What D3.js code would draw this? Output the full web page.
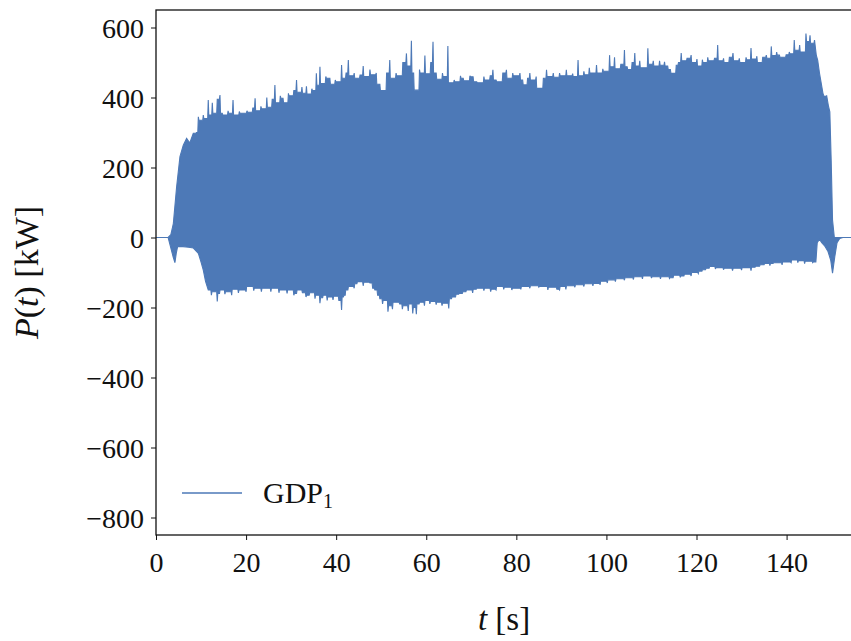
<!DOCTYPE html>
<html>
<head>
<meta charset="utf-8">
<script src="https://cdn.jsdelivr.net/npm/d3@7"></script>
<style>
  html, body { margin: 0; padding: 0; background: #fff; }
  svg { display: block; }
  text { font-family: "Liberation Serif", "DejaVu Serif", serif; fill: #111; }
</style>
</head>
<body>
<svg id="chart" width="851" height="641"></svg>
<script>
// ---- data (t [s], P [kW]) ----
const seriesName = "GDP";
const seriesSub = "1";
const xTicks = [0, 20, 40, 60, 80, 100, 120, 140];
const yTicks = [600, 400, 200, 0, -200, -400, -600, -800];
const xDomain = [0, 154.3];
const yDomain = [-850, 650];

// upper envelope of the signal (peaks of the oscillation)
const upperEnvelope = [[0,0],[2.7,0],[3.3,8],[3.85,40],[4.58,145],[5.32,231],[6.06,264],[6.8,283],[7.5,270],[8.28,298],[9.0,300],[9.4,345],[10.0,335],[10.5,350],[11.0,340],[11.6,393],[12.0,350],[12.5,385],[13.0,355],[13.6,395],[14.2,407],[14.7,355],[15.3,350],[16.0,362],[16.5,355],[17.1,393],[17.6,350],[18.5,360],[19.5,355],[20.2,362],[20.9,358],[21.5,370],[22.0,398],[22.6,362],[23.3,375],[24.0,368],[24.6,400],[25.2,372],[25.8,395],[26.4,436],[27.0,385],[27.6,405],[28.2,398],[28.8,385],[29.4,412],[30.0,405],[30.6,420],[31.2,450],[31.8,415],[32.4,430],[33.0,412],[33.4,432],[34.0,410],[34.6,425],[35.1,420],[35.6,469],[36.0,435],[36.4,488],[37.0,440],[37.7,460],[38.6,455],[39.2,438],[39.8,450],[40.4,445],[41.2,493],[41.7,455],[42.2,470],[42.7,507],[43.3,462],[44.0,470],[44.6,455],[45.3,464],[46.0,490],[46.6,460],[47.5,480],[48.2,465],[48.9,470],[49.7,438],[50.5,420],[51.2,470],[51.9,507],[52.6,455],[53.3,470],[54.1,462],[54.8,500],[55.6,526],[56.1,490],[56.7,562],[57.2,470],[57.8,421],[58.5,480],[59.1,470],[59.7,520],[60.4,468],[61.0,500],[61.5,559],[62.2,470],[63.0,452],[63.6,470],[64.2,460],[64.8,547],[65.5,442],[66.2,450],[67.0,445],[67.6,462],[68.2,455],[69.0,448],[69.7,462],[70.4,459],[71.2,445],[72.0,442],[72.8,460],[73.6,450],[74.2,462],[74.8,479],[75.5,450],[76.3,445],[77.0,470],[77.8,479],[78.5,455],[79.2,470],[80.0,462],[80.8,470],[81.4,450],[81.9,436],[82.5,455],[83.0,470],[83.7,450],[84.4,460],[85.2,426],[86.0,455],[86.7,479],[87.4,460],[88.2,470],[88.9,458],[89.6,470],[90.4,462],[91.1,479],[91.8,462],[92.5,468],[93.1,460],[93.7,507],[94.4,462],[95.0,475],[95.5,465],[96.2,485],[97.0,470],[97.8,493],[98.5,470],[99.2,482],[100.0,475],[100.7,521],[101.2,488],[101.8,515],[102.5,482],[103.2,495],[104.0,536],[104.6,488],[105.1,480],[105.7,500],[106.3,527],[106.9,490],[107.4,505],[108.2,485],[109.2,541],[109.8,495],[110.4,505],[111.1,490],[111.8,505],[112.4,492],[112.9,502],[113.6,490],[114.2,480],[114.8,469],[115.5,492],[116.0,500],[116.6,527],[117.2,505],[117.9,512],[118.8,521],[119.5,500],[120.1,510],[120.7,490],[121.3,508],[122.0,500],[122.5,515],[123.2,505],[124.0,512],[124.7,550],[125.3,505],[126.0,512],[126.6,500],[127.3,515],[128.1,527],[128.8,505],[129.5,512],[130.3,500],[131.0,515],[131.5,508],[132.1,541],[132.8,510],[133.4,518],[134.0,500],[134.7,515],[135.5,521],[136.0,512],[136.6,546],[137.2,520],[137.8,530],[138.4,521],[139.1,515],[139.9,522],[140.6,530],[141.2,525],[141.7,564],[142.3,535],[142.9,550],[143.6,530],[144.3,583],[144.8,560],[145.2,578],[145.6,555],[146.2,564],[146.6,520],[146.9,507],[147.3,470],[147.7,440],[148.1,410],[148.4,402],[148.9,405],[149.3,375],[149.6,359],[149.9,221],[150.2,50],[150.6,0],[154.3,0]];

// lower envelope of the signal (troughs of the oscillation)
const lowerEnvelope = [[0,0],[2.7,0],[3.3,-30],[3.8,-55],[4.2,-72],[4.5,-45],[4.8,-26],[6.0,-26],[7.2,-28],[8.3,-30],[9.4,-45],[10.0,-70],[10.5,-93],[11.0,-125],[11.6,-150],[12.3,-165],[13.0,-155],[13.6,-183],[14.1,-160],[14.6,-150],[15.3,-162],[16.0,-155],[16.8,-165],[17.5,-148],[18.3,-158],[19.0,-150],[20.0,-155],[20.9,-140],[21.7,-152],[22.5,-145],[23.4,-155],[24.6,-145],[25.5,-155],[26.4,-145],[27.3,-158],[28.2,-150],[29.1,-160],[30.0,-150],[30.6,-165],[31.2,-160],[31.8,-150],[32.5,-158],[33.3,-170],[34.0,-165],[34.6,-158],[35.3,-175],[36.0,-165],[36.4,-188],[37.0,-172],[37.5,-165],[38.0,-180],[38.6,-170],[39.3,-178],[40.0,-168],[40.6,-180],[41.2,-207],[41.6,-170],[42.0,-165],[42.6,-150],[43.2,-140],[44.0,-145],[44.6,-132],[45.3,-126],[46.0,-138],[46.6,-128],[47.5,-130],[48.1,-145],[48.6,-150],[49.2,-165],[49.7,-175],[50.3,-190],[50.9,-180],[51.5,-212],[52.0,-195],[52.5,-205],[53.2,-185],[54.1,-190],[54.7,-205],[55.3,-195],[56.0,-210],[56.5,-190],[57.0,-217],[57.4,-200],[57.8,-219],[58.4,-190],[59.0,-185],[59.6,-195],[60.2,-180],[60.8,-190],[61.5,-183],[62.2,-192],[63.0,-185],[63.5,-195],[64.2,-188],[65.0,-203],[65.6,-175],[66.5,-170],[67.2,-162],[68.0,-160],[68.8,-155],[69.5,-150],[70.3,-158],[71.1,-148],[72.0,-145],[72.8,-152],[73.6,-145],[74.3,-155],[74.8,-148],[75.5,-150],[76.3,-140],[77.2,-148],[78.0,-142],[79.0,-150],[80.0,-145],[81.0,-148],[82.0,-140],[83.0,-145],[84.0,-138],[85.0,-142],[86.0,-140],[87.0,-150],[88.0,-142],[89.0,-148],[89.6,-150],[90.3,-140],[91.0,-148],[92.0,-138],[93.0,-142],[94.0,-135],[95.0,-140],[96.0,-132],[97.0,-138],[97.8,-131],[98.6,-135],[99.4,-125],[100.2,-130],[101.0,-121],[102.0,-126],[103.0,-118],[104.0,-122],[105.0,-115],[106.0,-120],[107.0,-112],[108.0,-118],[109.0,-110],[110.0,-116],[111.0,-112],[112.0,-118],[113.0,-112],[114.0,-117],[114.8,-115],[115.6,-108],[116.4,-114],[117.2,-110],[118.0,-105],[118.8,-110],[119.6,-100],[120.4,-103],[121.2,-96],[122.0,-92],[122.8,-88],[123.5,-83],[124.2,-90],[125.0,-86],[126.0,-92],[127.0,-88],[128.0,-95],[129.0,-88],[130.0,-93],[131.0,-86],[132.1,-95],[133.0,-85],[134.0,-82],[135.0,-78],[135.5,-74],[136.3,-80],[137.0,-74],[138.0,-72],[139.0,-78],[140.0,-70],[141.0,-72],[141.7,-64],[142.5,-72],[143.3,-66],[144.0,-75],[145.0,-68],[145.8,-72],[146.5,-70],[146.8,-15],[147.3,-5],[147.8,-15],[148.5,-25],[149.2,-40],[149.8,-65],[150.2,-102],[150.7,-55],[151.2,-15],[151.8,-3],[152.5,0],[154.3,0]];

// ---- layout ----
const svg = d3.select("#chart");
const mLeft = 156, mRight = 851, mTop = 10, mBottom = 535;
const color = "#4d79b7";

const x = d3.scaleLinear().domain(xDomain).range([mLeft, mRight]);
const y = d3.scaleLinear().domain(yDomain).range([mBottom, mTop]);

svg.append("defs").append("clipPath").attr("id", "clip")
  .append("rect").attr("x", mLeft).attr("y", mTop)
  .attr("width", mRight - mLeft).attr("height", mBottom - mTop);

// inside the steady part, each read extreme becomes a narrow spike and the fill
// between two extremes sits at the less extreme one (dense oscillation look);
// the ramp-up and ramp-down edges stay as read.
function spiky(env, pick, t0, t1) {
  const w = 0.12;
  const out = [];
  env.forEach((d, i) => {
    out.push(d);
    const n = env[i + 1];
    if (n && d[0] >= t0 && n[0] <= t1 && n[0] - d[0] > 3 * w) {
      const m = pick(d[1], n[1]);
      out.push([d[0] + w, m], [n[0] - w, m]);
    }
  });
  return out;
}
const upperPath = spiky(upperEnvelope, Math.min, 8.2, 146.3);
const lowerPath = spiky(lowerEnvelope, Math.max, 11.5, 146.5);
const outline = upperPath.concat(lowerPath.slice().reverse());
const line = d3.line().x(d => x(d[0])).y(d => y(d[1]));

svg.append("path")
  .attr("clip-path", "url(#clip)")
  .attr("d", line(outline) + "Z")
  .attr("fill", color)
  .attr("stroke", color)
  .attr("stroke-width", 1.1)
  .attr("stroke-linejoin", "miter")
  .attr("stroke-miterlimit", 3);

// ---- axes ----
const fmt = d => d < 0 ? "\u2212" + Math.abs(d) : String(d);
const xAxis = svg.append("g").attr("transform", `translate(0,${mBottom})`)
  .call(d3.axisBottom(x).tickValues(xTicks).tickFormat(fmt).tickSize(5).tickPadding(6));
const yAxis = svg.append("g").attr("transform", `translate(${mLeft},0)`)
  .call(d3.axisLeft(y).tickValues(yTicks).tickFormat(fmt).tickSize(5).tickPadding(7));

[xAxis, yAxis].forEach(g => {
  g.select(".domain").remove();
  g.selectAll(".tick line").attr("stroke", "#111").attr("stroke-width", 1);
  g.selectAll(".tick text")
    .attr("font-family", "'Liberation Serif', serif")
    .attr("font-size", 28).attr("fill", "#111");
});
xAxis.selectAll(".tick text").attr("dy", "0.92em");
yAxis.selectAll(".tick text").attr("dy", "0.34em");

// spines
svg.append("rect")
  .attr("x", mLeft).attr("y", mTop)
  .attr("width", mRight - mLeft + 2).attr("height", mBottom - mTop)
  .attr("fill", "none").attr("stroke", "#111").attr("stroke-width", 1.3);

// ---- axis labels ----
const xl = svg.append("text")
  .attr("x", 504).attr("y", 630)
  .attr("text-anchor", "middle").attr("font-size", 33);
xl.append("tspan").attr("font-style", "italic").text("t");
xl.append("tspan").text(" [s]");

const yl = svg.append("text")
  .attr("transform", `translate(38,${(mTop + mBottom) / 2}) rotate(-90)`)
  .attr("text-anchor", "middle").attr("font-size", 34);
yl.append("tspan").attr("font-style", "italic").text("P");
yl.append("tspan").text("(");
yl.append("tspan").attr("font-style", "italic").text("t");
yl.append("tspan").text(") [kW]");

// ---- legend ----
svg.append("line")
  .attr("x1", 182).attr("x2", 242).attr("y1", 493).attr("y2", 493)
  .attr("stroke", color).attr("stroke-width", 1.6);
const lt = svg.append("text").attr("x", 263).attr("y", 503).attr("font-size", 30);
lt.append("tspan").text(seriesName);
lt.append("tspan").attr("font-size", 20).attr("dy", 5).text(seriesSub);
</script>
</body>
</html>
